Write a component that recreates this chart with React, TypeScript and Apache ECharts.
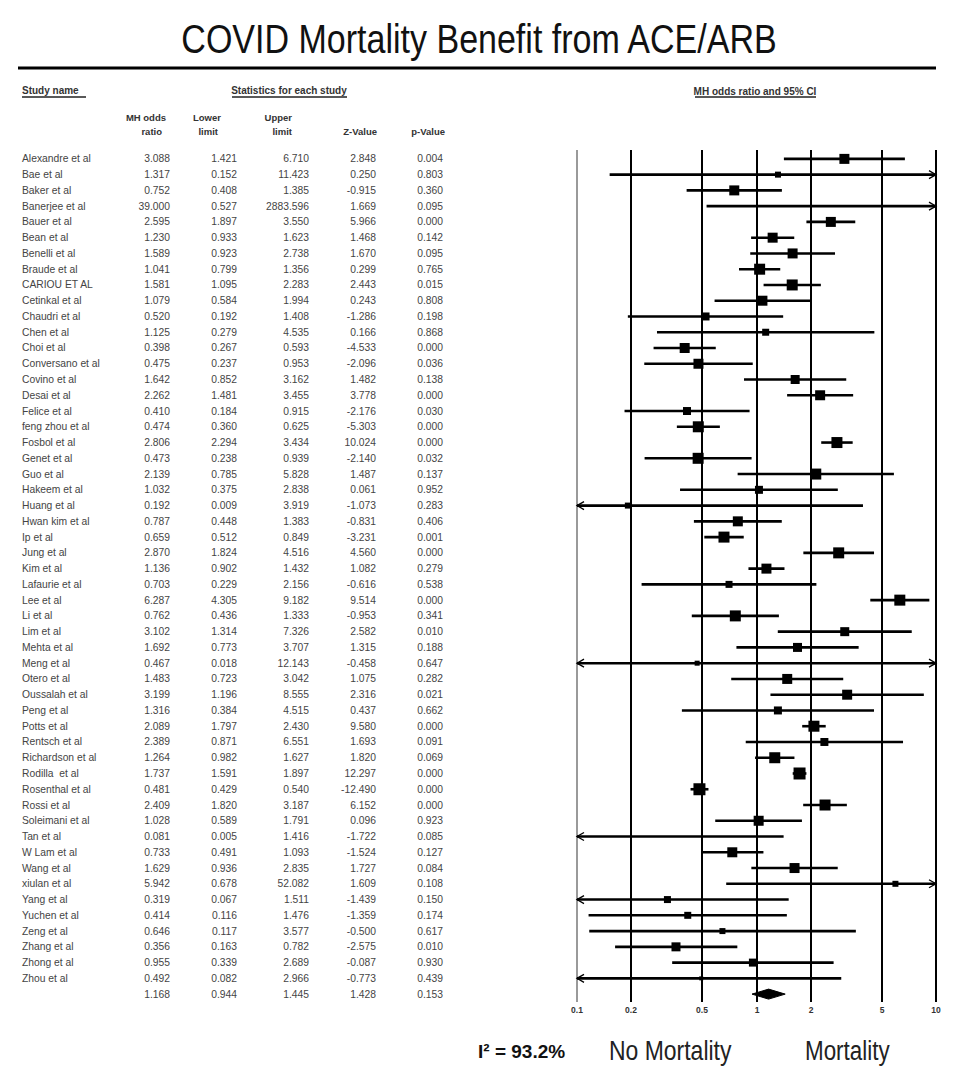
import React, { useEffect, useRef } from "react";
import * as echarts from "echarts";

const studyNames = [
  "Alexandre et al", "Bae et al", "Baker et al", "Banerjee et al", "Bauer et al",
  "Bean et al", "Benelli et al", "Braude et al", "CARIOU ET AL", "Cetinkal et al",
  "Chaudri et al", "Chen et al", "Choi et al", "Conversano et al", "Covino et al",
  "Desai et al", "Felice et al", "feng zhou et al", "Fosbol et al", "Genet et al",
  "Guo et al", "Hakeem et al", "Huang et al", "Hwan kim et al", "Ip et al",
  "Jung et al", "Kim et al", "Lafaurie et al", "Lee et al", "Li et al",
  "Lim et al", "Mehta et al", "Meng et al", "Otero et al", "Oussalah et al",
  "Peng et al", "Potts et al", "Rentsch et al", "Richardson et al", "Rodilla  et al",
  "Rosenthal et al", "Rossi et al", "Soleimani et al", "Tan et al", "W Lam et al",
  "Wang et al", "xiulan et al", "Yang et al", "Yuchen et al", "Zeng et al",
  "Zhang et al", "Zhong et al", "Zhou et al",
];
const oddsRatio = [
  3.088, 1.317, 0.752, 39.0, 2.595, 1.23, 1.589, 1.041, 1.581, 1.079,
  0.52, 1.125, 0.398, 0.475, 1.642, 2.262, 0.41, 0.474, 2.806, 0.473,
  2.139, 1.032, 0.192, 0.787, 0.659, 2.87, 1.136, 0.703, 6.287, 0.762,
  3.102, 1.692, 0.467, 1.483, 3.199, 1.316, 2.089, 2.389, 1.264, 1.737,
  0.481, 2.409, 1.028, 0.081, 0.733, 1.629, 5.942, 0.319, 0.414, 0.646,
  0.356, 0.955, 0.492,
];
const lowerLimit = [
  1.421, 0.152, 0.408, 0.527, 1.897, 0.933, 0.923, 0.799, 1.095, 0.584,
  0.192, 0.279, 0.267, 0.237, 0.852, 1.481, 0.184, 0.36, 2.294, 0.238,
  0.785, 0.375, 0.009, 0.448, 0.512, 1.824, 0.902, 0.229, 4.305, 0.436,
  1.314, 0.773, 0.018, 0.723, 1.196, 0.384, 1.797, 0.871, 0.982, 1.591,
  0.429, 1.82, 0.589, 0.005, 0.491, 0.936, 0.678, 0.067, 0.116, 0.117,
  0.163, 0.339, 0.082,
];
const upperLimit = [
  6.71, 11.423, 1.385, 2883.596, 3.55, 1.623, 2.738, 1.356, 2.283, 1.994,
  1.408, 4.535, 0.593, 0.953, 3.162, 3.455, 0.915, 0.625, 3.434, 0.939,
  5.828, 2.838, 3.919, 1.383, 0.849, 4.516, 1.432, 2.156, 9.182, 1.333,
  7.326, 3.707, 12.143, 3.042, 8.555, 4.515, 2.43, 6.551, 1.627, 1.897,
  0.54, 3.187, 1.791, 1.416, 1.093, 2.835, 52.082, 1.511, 1.476, 3.577,
  0.782, 2.689, 2.966,
];
const zValue = [
  2.848, 0.25, -0.915, 1.669, 5.966, 1.468, 1.67, 0.299, 2.443, 0.243,
  -1.286, 0.166, -4.533, -2.096, 1.482, 3.778, -2.176, -5.303, 10.024, -2.14,
  1.487, 0.061, -1.073, -0.831, -3.231, 4.56, 1.082, -0.616, 9.514, -0.953,
  2.582, 1.315, -0.458, 1.075, 2.316, 0.437, 9.58, 1.693, 1.82, 12.297,
  -12.49, 6.152, 0.096, -1.722, -1.524, 1.727, 1.609, -1.439, -1.359, -0.5,
  -2.575, -0.087, -0.773,
];
const pValue = [
  0.004, 0.803, 0.36, 0.095, 0.0, 0.142, 0.095, 0.765, 0.015, 0.808,
  0.198, 0.868, 0.0, 0.036, 0.138, 0.0, 0.03, 0.0, 0.0, 0.032,
  0.137, 0.952, 0.283, 0.406, 0.001, 0.0, 0.279, 0.538, 0.0, 0.341,
  0.01, 0.188, 0.647, 0.282, 0.021, 0.662, 0.0, 0.091, 0.069, 0.0,
  0.0, 0.0, 0.923, 0.085, 0.127, 0.084, 0.108, 0.15, 0.174, 0.617,
  0.01, 0.93, 0.439,
];
// relative study weight, shown as the size of each square
const weights = [
  10, 6, 10, 5, 10, 10, 10, 11, 11, 10,
  8, 7, 10, 10, 9, 10, 8, 11, 11, 11,
  11, 8, 6, 10, 11, 11, 10, 7, 11, 11,
  9, 9, 5, 10, 10, 8, 11, 8, 11, 12,
  12, 11, 10, 5, 10, 10, 6, 7, 7, 6,
  9, 8, 4,
];
const pooledStats = [1.168, 0.944, 1.445, 1.428, 0.153];
const xTicks = [0.1, 0.2, 0.5, 1, 2, 5, 10];
const xTickLabels = ["0.1", "0.2", "0.5", "1", "2", "5", "10"];
const i2Label = "I\u00B2 = 93.2%";

const X_MIN = 0.1;
const X_MAX = 10;
const SANS = '"Liberation Sans", Arial, Helvetica, sans-serif';
const NARROW = '"Liberation Sans Narrow", "Arial Narrow", "Liberation Sans", sans-serif';
const TXT = "#444";

export default function App() {
  const ref = useRef<HTMLDivElement>(null);
  useEffect(() => {
    if (!ref.current) return;
    const chart = echarts.init(ref.current, undefined, { renderer: "svg" });
    const n = studyNames.length;
    const rowCats = [...studyNames, "Summary"];
    const GRID_TOP = 151;
    const GRID_H = 851;
    const tableCols = [170, 237, 309, 376, 443];
    const fmt = (v: number) => v.toFixed(3);

    const tableRender = (params: any, api: any) => {
      const i = params.dataIndex;
      const y = api.coord([0, i])[1];
      const vals = i < n ? [oddsRatio[i], lowerLimit[i], upperLimit[i], zValue[i], pValue[i]] : pooledStats;
      const children: any[] = [];
      if (i < n) {
        children.push({
          type: "text",
          x: api.coord([22, i])[0],
          y,
          style: { text: studyNames[i], align: "left", verticalAlign: "middle", fontSize: 10.3, fontFamily: SANS, fill: TXT },
        });
      }
      vals.forEach((v: number, k: number) => {
        children.push({
          type: "text",
          x: api.coord([tableCols[k], i])[0],
          y,
          style: { text: fmt(v), align: "right", verticalAlign: "middle", fontSize: 10.3, fontFamily: SANS, fill: TXT },
        });
      });
      return { type: "group", children };
    };

    const gridRender = (params: any, api: any) => {
      const cs = params.coordSys;
      const k = params.dataIndex;
      const p = api.coord([api.value(0), 0]);
      const x = Math.round(p[0]);
      return {
        type: "group",
        children: [
          {
            type: "line",
            shape: { x1: x, y1: cs.y - 1, x2: x, y2: cs.y + cs.height },
            style: { stroke: k === 0 ? "#9a9a9a" : "#000", lineWidth: 2 },
          },
          {
            type: "text",
            x,
            y: cs.y + cs.height + 8,
            style: {
              text: xTickLabels[k],
              align: "center",
              verticalAlign: "middle",
              fontSize: 8.5,
              fontWeight: "bold",
              fontFamily: SANS,
              fill: "#333",
            },
          },
        ],
      };
    };

    const forestRender = (params: any, api: any) => {
      const i = api.value(0);
      const or = api.value(1);
      const lo = api.value(2);
      const hi = api.value(3);
      const w = api.value(4);
      const a = api.coord([Math.max(lo, X_MIN), i]);
      const b = api.coord([Math.min(hi, X_MAX), i]);
      const y = a[1];
      const children: any[] = [
        { type: "line", shape: { x1: a[0], y1: y, x2: b[0], y2: y }, style: { stroke: "#000", lineWidth: 2.6 } },
      ];
      if (lo < X_MIN) {
        children.push({
          type: "polyline",
          shape: { points: [[a[0] + 7, y - 4], [a[0], y], [a[0] + 7, y + 4]] },
          style: { stroke: "#000", lineWidth: 1.3, fill: null },
        });
      }
      if (hi > X_MAX) {
        children.push({
          type: "polyline",
          shape: { points: [[b[0] - 7, y - 4], [b[0], y], [b[0] - 7, y + 4]] },
          style: { stroke: "#000", lineWidth: 1.3, fill: null },
        });
      }
      if (or >= X_MIN && or <= X_MAX) {
        const c = api.coord([or, i]);
        children.push({
          type: "rect",
          shape: { x: c[0] - w / 2, y: y - w / 2, width: w, height: w },
          style: { fill: "#000" },
        });
      }
      return { type: "group", children };
    };

    const summaryRender = (params: any, api: any) => {
      const i = api.value(0);
      const c = api.coord([api.value(1), i]);
      const l = api.coord([api.value(2), i]);
      const r = api.coord([api.value(3), i]);
      const h = 5;
      return {
        type: "polygon",
        shape: { points: [[l[0], c[1]], [c[0], c[1] - h], [r[0], c[1]], [c[0], c[1] + h]] },
        style: { fill: "#000", stroke: "#000", lineWidth: 1 },
      };
    };

    const hdr = (text: string, x: number, y: number, align: string, size = 9.5, fill = "#333") => ({
      type: "text",
      x,
      y,
      style: { text, align, verticalAlign: "middle", fontSize: size, fontWeight: "bold", fontFamily: SANS, fill },
    });
    const uline = (x1: number, x2: number, y: number) => ({
      type: "line",
      shape: { x1, y1: y, x2, y2: y },
      style: { stroke: "#222", lineWidth: 1.5 },
    });

    chart.setOption({
      animation: false,
      backgroundColor: "#fff",
      grid: [
        { left: 577, top: GRID_TOP, width: 359, height: GRID_H },
        { left: 0, top: GRID_TOP, width: 560, height: GRID_H },
      ],
      xAxis: [
        { type: "log", logBase: 10, min: X_MIN, max: X_MAX, gridIndex: 0, show: false },
        { type: "value", min: 0, max: 560, gridIndex: 1, show: false },
      ],
      yAxis: [
        { type: "category", data: rowCats, inverse: true, gridIndex: 0, show: false },
        { type: "category", data: rowCats, inverse: true, gridIndex: 1, show: false },
      ],
      series: [
        {
          type: "custom",
          xAxisIndex: 1,
          yAxisIndex: 1,
          clip: false,
          silent: true,
          data: rowCats.map((_, i) => [0, i]),
          encode: { x: 0, y: 1 },
          renderItem: tableRender,
        },
        {
          type: "custom",
          xAxisIndex: 0,
          yAxisIndex: 0,
          clip: false,
          silent: true,
          data: xTicks.map((t) => [t, 0]),
          encode: { x: 0, y: 1 },
          renderItem: gridRender,
        },
        {
          type: "custom",
          xAxisIndex: 0,
          yAxisIndex: 0,
          clip: false,
          silent: true,
          data: studyNames.map((_, i) => [i, oddsRatio[i], lowerLimit[i], upperLimit[i], weights[i]]),
          encode: { x: [1, 2, 3], y: 0 },
          renderItem: forestRender,
        },
        {
          type: "custom",
          xAxisIndex: 0,
          yAxisIndex: 0,
          clip: false,
          silent: true,
          data: [[n, pooledStats[0], pooledStats[1], pooledStats[2]]],
          encode: { x: [1, 2, 3], y: 0 },
          renderItem: summaryRender,
        },
      ],
      graphic: [
        {
          type: "text",
          x: 479,
          y: 39,
          scaleX: 0.83,
          style: {
            text: "COVID Mortality Benefit from ACE/ARB",
            align: "center",
            verticalAlign: "middle",
            fontSize: 41,
            fontFamily: NARROW,
            fill: "#111",
          },
        },
        { type: "line", shape: { x1: 18, y1: 68, x2: 936, y2: 68 }, style: { stroke: "#000", lineWidth: 3 } },
        hdr("Study name", 22, 90, "left", 10),
        uline(22, 86, 97),
        hdr("Statistics for each study", 289, 90, "center", 10),
        uline(232, 347, 97),
        hdr("MH odds ratio and 95% CI", 755, 91, "center", 10),
        uline(695, 816, 97),
        hdr("MH odds", 166, 117, "right"),
        hdr("ratio", 162, 131, "right"),
        hdr("Lower", 221, 117, "right"),
        hdr("limit", 218, 131, "right"),
        hdr("Upper", 292, 117, "right"),
        hdr("limit", 292, 131, "right"),
        hdr("Z-Value", 377, 131, "right"),
        hdr("p-Value", 445, 131, "right"),
        {
          type: "text",
          x: 478,
          y: 1051,
          style: { text: i2Label, align: "left", verticalAlign: "middle", fontSize: 19, fontWeight: "bold", fontFamily: SANS, fill: "#111" },
        },
        {
          type: "text",
          x: 609,
          y: 1050,
          scaleX: 0.82,
          style: { text: "No Mortality", align: "left", verticalAlign: "middle", fontSize: 28, fontFamily: NARROW, fill: "#222" },
        },
        {
          type: "text",
          x: 805,
          y: 1050,
          scaleX: 0.8,
          style: { text: "Mortality", align: "left", verticalAlign: "middle", fontSize: 28, fontFamily: NARROW, fill: "#222" },
        },
      ],
    });
    return () => chart.dispose();
  }, []);
  return (
    <div
      ref={ref}
      style={{ position: "fixed", left: 0, top: 0, width: 957, height: 1077, background: "#fff" }}
    />
  );
}
